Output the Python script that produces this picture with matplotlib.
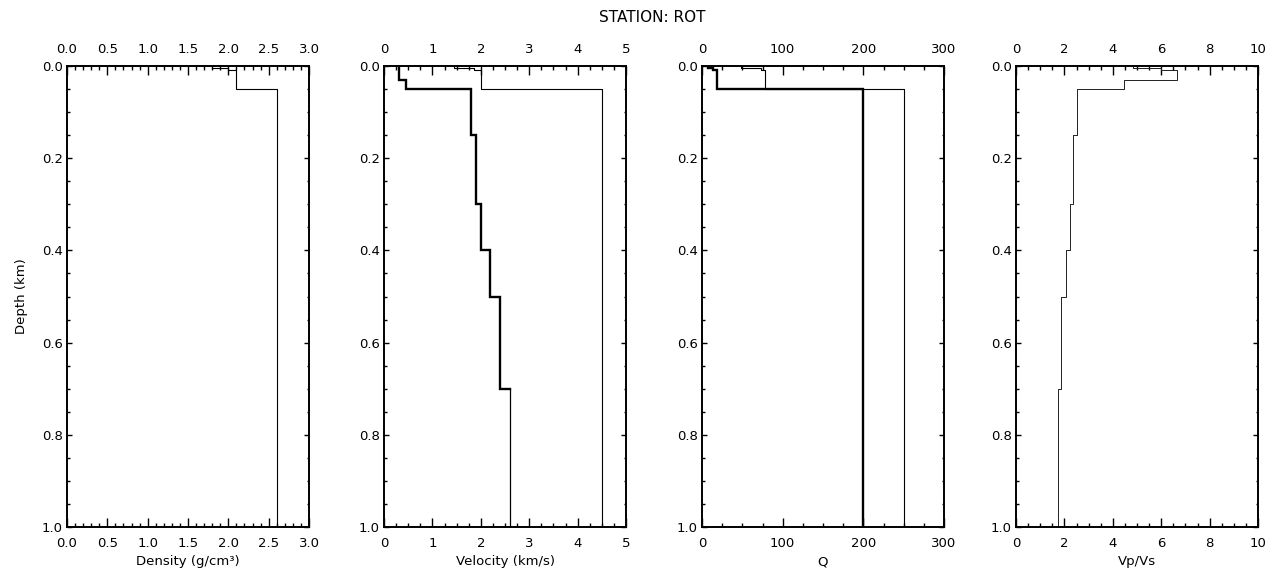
"""
Layered velocity model for one station: density, velocity, Q and Vp/Vs
plotted against depth as step profiles.
"""

import matplotlib

matplotlib.use("Agg")
import matplotlib.pyplot as plt  # noqa: E402
from matplotlib.ticker import MultipleLocator, FormatStrFormatter  # noqa: E402

STATION = "ROT"
MAX_DEPTH = 1.0

# layer tops (km) and values of each profile
density_tops = [0.0, 0.004, 0.008, 0.05]
density = [1.8, 2.0, 2.1, 2.6]

vp_tops = [0.0, 0.004, 0.008, 0.05]
vp = [1.45, 1.85, 2.0, 4.5]

vs_tops = [0.0, 0.03, 0.05, 0.15, 0.3, 0.4, 0.5, 0.7]
vs = [0.3, 0.45, 1.8, 1.9, 2.0, 2.2, 2.4, 2.6]

q_tops = [0.0, 0.004, 0.008, 0.05]
qs = [7, 14, 18, 200]
qp = [48, 73, 78, 250]

ratio_tops = [0.0, 0.004, 0.008, 0.03, 0.05, 0.15, 0.3, 0.4, 0.5, 0.7]
vp_vs = [4.85, 6.0, 6.65, 4.45, 2.5, 2.37, 2.25, 2.05, 1.87, 1.73]

panels = [
    dict(xlim=(0, 3), major=0.5, minor=0.1, fmt="%.1f", xlabel="Density (g/cm³)"),
    dict(xlim=(0, 5), major=1, minor=0.25, fmt="%d", xlabel="Velocity (km/s)"),
    dict(xlim=(0, 300), major=100, minor=25, fmt="%d", xlabel="Q"),
    dict(xlim=(0, 10), major=2, minor=0.5, fmt="%d", xlabel="Vp/Vs"),
]


def step_profile(tops, values, bottom=MAX_DEPTH):
    """Return x, y vertices of a layered profile drawn as steps."""
    xs, ys = [], []
    bases = list(tops[1:]) + [bottom]
    for top, base, val in zip(tops, bases, values):
        xs += [val, val]
        ys += [top, base]
    return xs, ys


plt.rcParams["font.family"] = "DejaVu Sans"
plt.rcParams["font.size"] = 9.5

fig = plt.figure(figsize=(12.73, 5.8), dpi=100)

lefts = [67, 384, 702, 1016]
width = 242
top_px, bottom_px = 66, 527
axes = []
for left in lefts:
    ax = fig.add_axes([left / 1273, 1 - bottom_px / 580, width / 1273,
                       (bottom_px - top_px) / 580])
    axes.append(ax)

# density
x, y = step_profile(density_tops, density)
axes[0].plot(x, y, color="black", lw=0.8)

# P and S velocity; the half-space of the S profile is drawn thin
x, y = step_profile(vp_tops, vp)
axes[1].plot(x, y, color="black", lw=0.8)
x, y = step_profile(vs_tops[:-1], vs[:-1], bottom=vs_tops[-1])
axes[1].plot(x + [vs[-1]], y + [vs_tops[-1]], color="black", lw=1.7,
             solid_joinstyle="miter")
axes[1].plot([vs[-1], vs[-1]], [vs_tops[-1], MAX_DEPTH], color="black", lw=0.9)

# quality factors
x, y = step_profile(q_tops, qp)
axes[2].plot(x, y, color="black", lw=0.8)
x, y = step_profile(q_tops, qs)
axes[2].plot(x, y, color="black", lw=1.7, solid_joinstyle="miter")

# velocity ratio
x, y = step_profile(ratio_tops, vp_vs)
axes[3].plot(x, y, color="#222222", lw=0.7)

for ax, opts in zip(axes, panels):
    ax.set_xlim(*opts["xlim"])
    ax.set_ylim(MAX_DEPTH, 0)
    ax.xaxis.set_major_locator(MultipleLocator(opts["major"]))
    ax.xaxis.set_minor_locator(MultipleLocator(opts["minor"]))
    ax.xaxis.set_major_formatter(FormatStrFormatter(opts["fmt"]))
    ax.yaxis.set_major_locator(MultipleLocator(0.2))
    ax.yaxis.set_minor_locator(MultipleLocator(0.05))
    ax.yaxis.set_major_formatter(FormatStrFormatter("%.1f"))
    ax.tick_params(axis="x", which="both", direction="in", top=True,
                   labeltop=True, width=1.0, colors="black")
    ax.tick_params(axis="x", which="major", length=6.5, pad=7)
    ax.tick_params(axis="x", which="minor", length=3.2)
    ax.tick_params(axis="y", which="both", direction="in", right=True,
                   width=1.0, pad=3)
    ax.tick_params(axis="y", which="major", length=3.6)
    ax.tick_params(axis="y", which="minor", length=1.8)
    for spine in ax.spines.values():
        spine.set_linewidth(1.4)
    ax.set_xlabel(opts["xlabel"], labelpad=4)

axes[0].set_ylabel("Depth (km)", labelpad=10)

fig.text(652 / 1273, 1 - 18 / 580, f"STATION: {STATION}", ha="center",
         va="center", fontsize=11)

fig.savefig("out.png", dpi=100)
plt.close(fig)
